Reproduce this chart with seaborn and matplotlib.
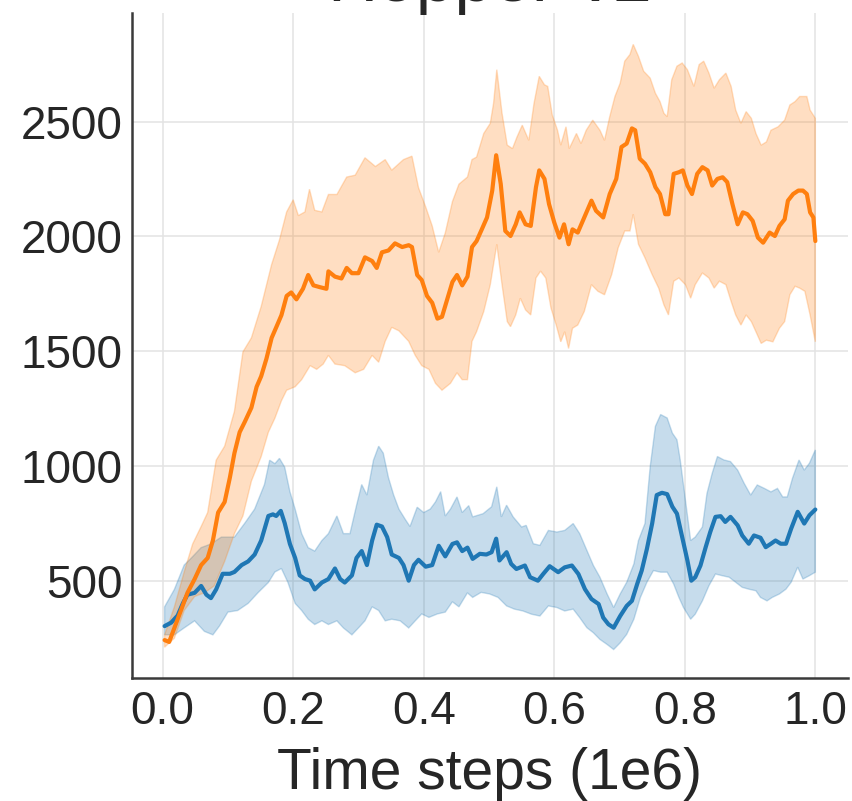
import numpy as np
import matplotlib
matplotlib.use("Agg")
from matplotlib import pyplot as plt
import seaborn as sns

# Time steps (1e6) and returns, per curve
orange_mean_x = [0.003, 0.010, 0.018, 0.028, 0.038, 0.049, 0.059, 0.069, 0.077, 0.085,
                 0.095, 0.103, 0.110, 0.118, 0.126, 0.136, 0.144, 0.151, 0.159, 0.167,
                 0.174, 0.182, 0.190, 0.197, 0.205, 0.215, 0.223, 0.231, 0.241, 0.251,
                 0.254, 0.264, 0.274, 0.282, 0.290, 0.300, 0.310, 0.321, 0.328, 0.336,
                 0.346, 0.356, 0.367, 0.377, 0.382, 0.390, 0.397, 0.405, 0.413, 0.421,
                 0.428, 0.436, 0.444, 0.451, 0.459, 0.467, 0.474,
                 0.481, 0.489, 0.497, 0.505, 0.511, 0.518, 0.525, 0.533, 0.541, 0.547,
                 0.556, 0.564, 0.572, 0.577, 0.585, 0.592, 0.600, 0.608, 0.615, 0.622,
                 0.628, 0.636, 0.646, 0.657, 0.664, 0.675, 0.685, 0.695, 0.703, 0.711,
                 0.719, 0.724, 0.731, 0.739, 0.747, 0.755, 0.762, 0.770, 0.775, 0.783,
                 0.791, 0.797, 0.804, 0.811, 0.819, 0.827, 0.835, 0.842, 0.850, 0.858,
                 0.865, 0.873, 0.881, 0.889, 0.896, 0.904, 0.912, 0.920, 0.930, 0.938,
                 0.945, 0.953, 0.958, 0.966, 0.974, 0.981, 0.987, 0.992, 0.997, 1.000]
orange_mean_y = [241, 233, 294, 370, 447, 507, 568, 599, 675, 797,
                 843, 949, 1056, 1147, 1193, 1254, 1345, 1391, 1467, 1558,
                 1604, 1657, 1741, 1756, 1726, 1772, 1832, 1787, 1779, 1772,
                 1848, 1825, 1817, 1863, 1840, 1840, 1909, 1893, 1863, 1931,
                 1939, 1970, 1954, 1962, 1954, 1832, 1810, 1741, 1711, 1642,
                 1650, 1726, 1802, 1832, 1787, 1825, 1954,
                 1980, 2031, 2083, 2200, 2354, 2229, 2024, 2002, 2053, 2105,
                 2053, 2046, 2215, 2288, 2251, 2141, 2061, 1995, 2053, 1966,
                 2031, 2017, 2083, 2156, 2112, 2083, 2185, 2251, 2390, 2405,
                 2471, 2463, 2339, 2317, 2280, 2215, 2185, 2097, 2097, 2273,
                 2280, 2288, 2222, 2185, 2273, 2302, 2288, 2222, 2251, 2258,
                 2237, 2141, 2053, 2105, 2097, 2068, 1995, 1973, 2017, 2002,
                 2046, 2075, 2156, 2185, 2200, 2200, 2185, 2105, 2083, 1980]

orange_hi_x = [0.003, 0.018, 0.033, 0.046, 0.059, 0.069, 0.082, 0.095, 0.110, 0.123,
               0.136, 0.151, 0.167, 0.179, 0.190, 0.200, 0.208, 0.218, 0.225, 0.233,
               0.244, 0.254, 0.267, 0.282, 0.295, 0.310, 0.326, 0.341, 0.351, 0.369,
               0.382, 0.392, 0.403, 0.413, 0.423, 0.433, 0.444, 0.454, 0.467, 0.474,
               0.481, 0.492, 0.502, 0.507, 0.512, 0.520, 0.528, 0.536, 0.543, 0.551,
               0.561, 0.569, 0.577, 0.585, 0.590, 0.597, 0.605, 0.610, 0.618, 0.623,
               0.634, 0.641, 0.649, 0.659, 0.670, 0.677, 0.685, 0.693, 0.701, 0.708,
               0.716, 0.721, 0.729, 0.737, 0.747, 0.755, 0.762, 0.768, 0.773, 0.780,
               0.788, 0.796, 0.804, 0.814, 0.822, 0.829, 0.837, 0.845, 0.853, 0.863,
               0.871, 0.878, 0.886, 0.894, 0.902, 0.909, 0.917, 0.925, 0.932, 0.943,
               0.953, 0.961, 0.969, 0.976, 0.987, 0.992, 1.000]
orange_hi_y = [264, 386, 538, 660, 736, 797, 1025, 1086, 1238, 1497,
               1558, 1695, 1878, 1985, 2107, 2160, 2091, 2107, 2206, 2114,
               2107, 2183, 2183, 2259, 2267, 2343, 2305, 2335, 2289, 2335,
               2350, 2213, 2129, 2046, 1931, 2015, 2152, 2228, 2259, 2335,
               2346, 2449, 2493, 2580, 2727, 2537, 2398, 2383, 2434, 2485,
               2419, 2580, 2698, 2661, 2654, 2529, 2463, 2398, 2478, 2383,
               2449, 2405, 2463, 2507, 2463, 2419, 2522, 2610, 2668, 2764,
               2793, 2837, 2785, 2720, 2690, 2624, 2588, 2537, 2522, 2683,
               2742, 2756, 2727, 2654, 2749, 2764, 2712, 2646, 2683, 2712,
               2654, 2551, 2493, 2544, 2515, 2449, 2398, 2412, 2463, 2478,
               2507, 2573, 2588, 2610, 2610, 2551, 2515]

orange_lo_x = [0.003, 0.018, 0.033, 0.049, 0.064, 0.079, 0.095, 0.110, 0.123, 0.136,
               0.151, 0.162, 0.172, 0.182, 0.190, 0.203, 0.213, 0.226, 0.236, 0.246,
               0.254, 0.264, 0.279, 0.295, 0.308, 0.321, 0.331, 0.341, 0.351, 0.362,
               0.377, 0.387, 0.397, 0.408, 0.418, 0.428, 0.441, 0.451, 0.459, 0.467,
               0.474,
               0.481, 0.492, 0.502, 0.512, 0.520, 0.528, 0.533, 0.541, 0.548, 0.556,
               0.564, 0.572, 0.579, 0.587, 0.595, 0.603, 0.610, 0.616, 0.622, 0.628,
               0.636, 0.646, 0.657, 0.667, 0.677, 0.688, 0.698, 0.708, 0.716, 0.721,
               0.729, 0.739, 0.750, 0.760, 0.768, 0.775, 0.783, 0.791, 0.801, 0.809,
               0.816, 0.827, 0.837, 0.845, 0.853, 0.863, 0.871, 0.878, 0.886, 0.894,
               0.902, 0.909, 0.917, 0.925, 0.935, 0.945, 0.953, 0.961, 0.969, 0.976,
               0.984, 0.992, 1.000]
orange_lo_y = [210, 249, 370, 431, 447, 477, 584, 705, 782, 934,
               1041, 1147, 1208, 1284, 1330, 1345, 1376, 1437, 1421, 1444,
               1482, 1444, 1437, 1406, 1421, 1482, 1452, 1543, 1604, 1589,
               1543, 1482, 1437, 1421, 1360, 1330, 1360, 1406, 1376, 1376,
               1543,
               1585, 1673, 1790, 1966, 1790, 1629, 1607, 1658, 1731, 1680,
               1658, 1819, 1849, 1819, 1688, 1614, 1541, 1585, 1512, 1600,
               1614, 1673, 1790, 1761, 1746, 1834, 1951, 2024, 2024, 2097,
               1966, 1907, 1834, 1775, 1702, 1658, 1805, 1819, 1790, 1731,
               1790, 1841, 1819, 1775, 1805, 1790, 1717, 1658, 1614, 1658,
               1629, 1585, 1534, 1548, 1541, 1600, 1629, 1746, 1783, 1775,
               1761, 1658, 1541]

blue_mean_x = [0.003, 0.013, 0.023, 0.031, 0.038, 0.049, 0.059, 0.067, 0.074, 0.082,
               0.092, 0.103, 0.110, 0.121, 0.131, 0.141, 0.151, 0.162, 0.169, 0.174,
               0.181, 0.187, 0.195, 0.203, 0.210, 0.218, 0.226, 0.233, 0.244, 0.254,
               0.264, 0.272, 0.279, 0.290, 0.297, 0.305, 0.313, 0.321, 0.328, 0.336,
               0.344, 0.351, 0.362, 0.369, 0.377, 0.385, 0.392, 0.403, 0.413, 0.423,
               0.433, 0.444, 0.451, 0.459, 0.467,
               0.475, 0.486, 0.496, 0.504, 0.511, 0.516, 0.527, 0.534, 0.542, 0.555,
               0.563, 0.575, 0.583, 0.593, 0.606, 0.616, 0.627, 0.637, 0.647, 0.657,
               0.668, 0.675, 0.683, 0.691, 0.701, 0.711, 0.719, 0.727, 0.734, 0.742,
               0.750, 0.757, 0.765, 0.773, 0.781, 0.788, 0.796, 0.804, 0.810, 0.816,
               0.824, 0.832, 0.839, 0.847, 0.855, 0.862, 0.870, 0.881, 0.888, 0.898,
               0.906, 0.916, 0.924, 0.932, 0.939, 0.947, 0.955, 0.963, 0.973, 0.983,
               0.991, 1.000]
blue_mean_y = [302, 317, 348, 401, 439, 447, 477, 439, 424, 462,
               530, 530, 538, 568, 584, 614, 675, 782, 789, 782,
               804, 751, 660, 599, 523, 507, 500, 462, 492, 507,
               553, 507, 492, 523, 599, 629, 568, 675, 744, 736,
               690, 614, 599, 568, 500, 568, 591, 561, 568, 652,
               606, 660, 667, 629, 644,
               595, 617, 614, 624, 683, 588, 624, 573, 551, 566,
               515, 500, 529, 563, 537, 558, 566, 529, 463, 420,
               398, 339, 310, 295, 346, 390, 412, 485, 544, 639,
               749, 873, 883, 877, 822, 792, 690, 588, 500, 515,
               566, 646, 712, 778, 781, 756, 778, 741, 697, 661,
               697, 687, 646, 661, 675, 661, 661, 727, 800, 749,
               785, 810]

blue_hi_x = [0.003, 0.018, 0.033, 0.044, 0.059, 0.074, 0.090, 0.110, 0.126, 0.141,
             0.156, 0.164, 0.172, 0.179, 0.187, 0.195, 0.203, 0.213, 0.223, 0.233,
             0.244, 0.254, 0.267, 0.277, 0.287, 0.297, 0.305, 0.313, 0.323, 0.331,
             0.338, 0.346, 0.354, 0.362, 0.372, 0.379, 0.390, 0.400, 0.410, 0.418,
             0.426, 0.433, 0.441, 0.451, 0.459, 0.469,
             0.475, 0.491, 0.504, 0.512, 0.519, 0.527, 0.537, 0.550, 0.557, 0.568,
             0.578, 0.591, 0.604, 0.616, 0.629, 0.639, 0.650, 0.660, 0.670, 0.681,
             0.691, 0.701, 0.711, 0.722, 0.729, 0.739, 0.747, 0.755, 0.763, 0.773,
             0.781, 0.788, 0.793, 0.801, 0.809, 0.816, 0.827, 0.834, 0.842, 0.850,
             0.860, 0.870, 0.881, 0.891, 0.901, 0.911, 0.922, 0.932, 0.942, 0.950,
             0.957, 0.965, 0.975, 0.983, 0.991, 1.000]
blue_hi_y = [386, 462, 568, 599, 644, 660, 690, 690, 751, 812,
             919, 1025, 1010, 1033, 995, 888, 812, 705, 644, 629,
             675, 705, 782, 705, 705, 827, 919, 873, 1025, 1086,
             1056, 949, 873, 812, 766, 736, 820, 797, 812, 843,
             888, 782, 812, 865, 797, 827,
             778, 792, 822, 909, 778, 829, 778, 734, 741, 661,
             654, 719, 712, 719, 749, 705, 632, 566, 515, 442,
             383, 442, 493, 573, 675, 749, 997, 1173, 1224, 1209,
             1143, 1114, 1026, 851, 675, 690, 734, 880, 968, 1041,
             1026, 1019, 982, 924, 873, 917, 902, 887, 902, 865,
             865, 946, 1026, 982, 1012, 1070]

blue_lo_x = [0.003, 0.018, 0.033, 0.049, 0.064, 0.077, 0.087, 0.100, 0.115, 0.131,
             0.146, 0.162, 0.172, 0.182, 0.192, 0.203, 0.213, 0.223, 0.233, 0.244,
             0.254, 0.267, 0.277, 0.290, 0.300, 0.310, 0.321, 0.331, 0.341, 0.351,
             0.364, 0.377, 0.387, 0.397, 0.408, 0.421, 0.433, 0.444, 0.454, 0.467,
             0.475, 0.488, 0.501, 0.514, 0.527, 0.539, 0.552, 0.565, 0.578, 0.591,
             0.604, 0.616, 0.629, 0.639, 0.650, 0.660, 0.670, 0.681, 0.691, 0.701,
             0.711, 0.722, 0.732, 0.742, 0.752, 0.763, 0.773, 0.783, 0.791, 0.798,
             0.809, 0.816, 0.827, 0.837, 0.847, 0.857, 0.868, 0.878, 0.888, 0.898,
             0.909, 0.916, 0.926, 0.934, 0.945, 0.955, 0.963, 0.973, 0.981, 0.991,
             1.000]
blue_lo_y = [264, 264, 294, 325, 279, 264, 302, 363, 370, 401,
             447, 492, 538, 553, 492, 401, 370, 332, 309, 325,
             309, 325, 294, 264, 294, 325, 386, 370, 325, 332,
             325, 294, 325, 355, 340, 355, 363, 408, 386, 447,
             427, 449, 442, 427, 390, 376, 368, 354, 346, 390,
             383, 368, 376, 339, 295, 273, 244, 222, 200, 229,
             266, 332, 427, 493, 544, 537, 537, 485, 427, 383,
             332, 354, 412, 478, 529, 522, 515, 493, 471, 463,
             456, 427, 412, 427, 442, 463, 493, 559, 507, 522,
             537]

blue = "#1f77b4"
orange = "#ff7f0e"

sns.set_style("whitegrid")
plt.rcParams["font.family"] = ["Liberation Sans", "DejaVu Sans"]
plt.rcParams["text.color"] = "#262626"

fig = plt.figure(figsize=(8.53, 8.01), dpi=100)
ax = fig.add_axes([0.1547, 0.1536, 0.8394, 0.8302])

# shaded bands first, mean lines on top
for hx, hy, lx, ly, c in [(blue_hi_x, blue_hi_y, blue_lo_x, blue_lo_y, blue),
                          (orange_hi_x, orange_hi_y, orange_lo_x, orange_lo_y, orange)]:
    ax.fill(np.r_[hx, lx[::-1]], np.r_[hy, ly[::-1]], color=c, alpha=0.25, linewidth=1)

sns.lineplot(x=blue_mean_x, y=blue_mean_y, color=blue, linewidth=3, ax=ax)
sns.lineplot(x=orange_mean_x, y=orange_mean_y, color=orange, linewidth=3, ax=ax)

ax.set_xlim(-0.047, 1.05)
ax.set_ylim(76, 2974)
ax.set_xticks([0.0, 0.2, 0.4, 0.6, 0.8, 1.0])
ax.set_yticks([500, 1000, 1500, 2000, 2500])
ax.tick_params(axis="x", length=0, pad=9, labelsize=33, labelcolor="#262626")
ax.tick_params(axis="y", length=0, pad=7, labelsize=33, labelcolor="#262626")
ax.set_xlabel("Time steps (1e6)", fontsize=41, labelpad=9, color="#262626")
ax.set_ylabel("")
# the title sits mostly above the canvas, as in the reference
ax.set_title("Hopper-v2", fontsize=50, pad=8.6, color="#262626")

ax.grid(True, color="#e3e3e3", linewidth=1.1)
for side in ["top", "right"]:
    ax.spines[side].set_visible(False)
for side in ["left", "bottom"]:
    ax.spines[side].set_color("#3a3a3a")
    ax.spines[side].set_linewidth(1.8)

fig.savefig("out.png", dpi=100)
